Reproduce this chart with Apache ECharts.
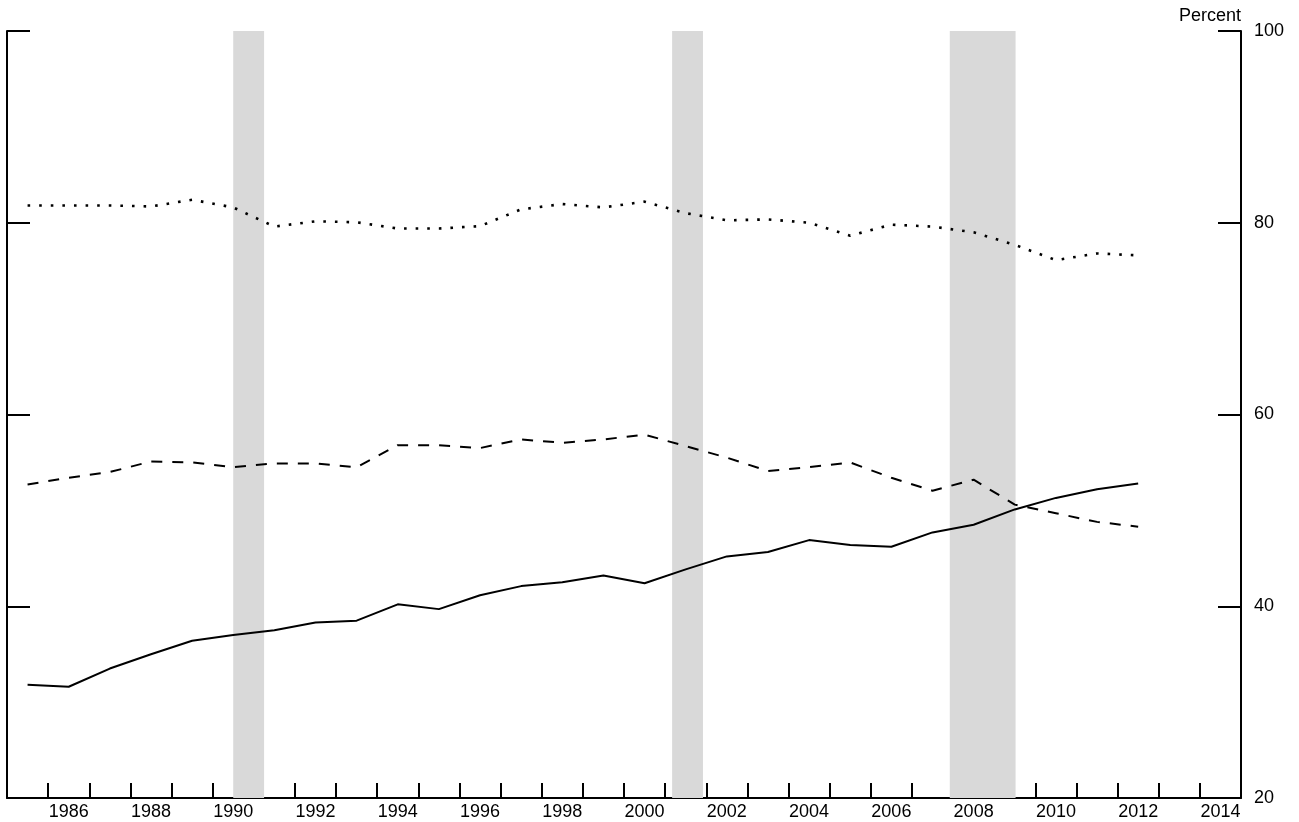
<!DOCTYPE html>
<html>
<head>
<meta charset="utf-8">
<script src="https://cdn.jsdelivr.net/npm/echarts@6/dist/echarts.min.js"></script>
<style>html,body{margin:0;padding:0;background:#fff}#c{width:1299px;height:822px}</style>
</head>
<body>
<div id="c"></div>
<script>
// Categories: years (one slot per year, points at year centres)
const years = ['1985','1986','1987','1988','1989','1990','1991','1992','1993','1994',
               '1995','1996','1997','1998','1999','2000','2001','2002','2003','2004',
               '2005','2006','2007','2008','2009','2010','2011','2012','2013','2014'];

// Solid line (percent)
const solidSeries = [31.8, 31.6, 33.5, 35.0, 36.4, 37.0, 37.5, 38.3, 38.5, 40.2,
                     39.7, 41.15, 42.1, 42.5, 43.2, 42.4, 43.85, 45.2, 45.65, 46.9,
                     46.4, 46.2, 47.7, 48.5, 50.1, 51.3, 52.2, 52.8, null, null];

// Dashed line (percent)
const dashedSeries = [52.7, 53.4, 54.0, 55.1, 55.0, 54.5, 54.9, 54.9, 54.5, 56.8,
                      56.8, 56.5, 57.4, 57.05, 57.4, 57.9, 56.7, 55.5, 54.1, 54.5,
                      55.0, 53.4, 52.05, 53.2, 50.6, 49.7, 48.8, 48.3, null, null];

// Dotted line (percent)
const dottedSeries = [81.8, 81.8, 81.8, 81.7, 82.4, 81.6, 79.6, 80.15, 80.05, 79.4,
                      79.4, 79.65, 81.4, 81.95, 81.6, 82.2, 81.0, 80.25, 80.35, 80.0,
                      78.65, 79.8, 79.6, 79.0, 77.7, 76.1, 76.8, 76.6, null, null];

// Recession periods (fractional years)
const recessions = [[1990.5, 1991.25], [2001.17, 2001.92], [2007.92, 2009.52]];

// Y axis ticks
const yMin = 20, yMax = 100, yStep = 20;

const FONT = '"Liberation Sans", Arial, sans-serif';
const FS = 18;
const chart = echarts.init(document.getElementById('c'), null, {renderer: 'canvas'});

const lineCommon = {
  type: 'line', xAxisIndex: 0, yAxisIndex: 0, symbol: 'none', showSymbol: false,
  silent: true, z: 5, connectNulls: false
};

chart.setOption({
  animation: false,
  backgroundColor: '#fff',
  grid: {left: 7, right: 58, top: 31, bottom: 24, containLabel: false},
  xAxis: [
    {
      type: 'category', data: years, boundaryGap: true,
      axisLine: {show: true, onZero: false, lineStyle: {color: '#000', width: 2}},
      axisTick: {show: true, inside: true, length: 15, interval: 0, lineStyle: {color: '#000', width: 2}},
      axisLabel: {
        interval: function (i) { return i % 2 === 1; },
        margin: 5, color: '#000', fontSize: FS, fontFamily: FONT
      },
      splitLine: {show: false}
    },
    {
      type: 'value', min: 1985, max: 2015, show: false, splitLine: {show: false}
    }
  ],
  yAxis: [
    {
      type: 'value', position: 'right', min: yMin, max: yMax, interval: yStep,
      axisLine: {show: true, onZero: false, lineStyle: {color: '#000', width: 2}},
      axisTick: {show: true, inside: true, length: 23, lineStyle: {color: '#000', width: 2}},
      axisLabel: {margin: 13, color: '#000', fontSize: FS, fontFamily: FONT},
      splitLine: {show: false},
      name: 'Percent', nameLocation: 'end', nameGap: 6,
      nameTextStyle: {align: 'right', verticalAlign: 'bottom', color: '#000', fontSize: FS, fontFamily: FONT}
    },
    {
      type: 'value', position: 'left', min: yMin, max: yMax, interval: yStep,
      axisLine: {show: true, onZero: false, lineStyle: {color: '#000', width: 2}},
      axisTick: {show: true, inside: true, length: 23, lineStyle: {color: '#000', width: 2}},
      axisLabel: {show: false},
      splitLine: {show: false}
    }
  ],
  series: [
    {
      type: 'line', xAxisIndex: 1, yAxisIndex: 0, data: [], silent: true, z: 1,
      symbol: 'none',
      markArea: {
        silent: true,
        itemStyle: {color: '#d9d9d9'},
        data: recessions.map(r => [{xAxis: r[0]}, {xAxis: r[1]}])
      }
    },
    Object.assign({}, lineCommon, {
      name: 'dotted', data: dottedSeries,
      lineStyle: {color: '#000', width: 2.6, type: [2.6, 9], cap: 'butt'}
    }),
    Object.assign({}, lineCommon, {
      name: 'dashed', data: dashedSeries,
      lineStyle: {color: '#000', width: 2, type: [11, 10], cap: 'butt'}
    }),
    Object.assign({}, lineCommon, {
      name: 'solid', data: solidSeries,
      lineStyle: {color: '#000', width: 2, type: 'solid'}
    })
  ]
});
</script>
</body>
</html>
